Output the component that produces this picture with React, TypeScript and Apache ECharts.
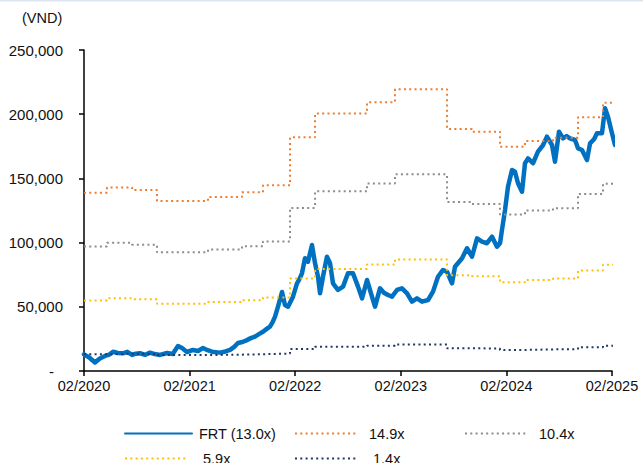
import React, { useEffect, useRef } from "react";
import * as echarts from "echarts";

// x positions are years elapsed since 02/2020
const xTickLabels = ["02/2020", "02/2021", "02/2022", "02/2023", "02/2024", "02/2025"];

const bandStepYears = [0, 0.218, 0.455, 0.691, 1.174, 1.496, 1.695, 1.951, 2.188, 2.68, 2.945, 3.438, 3.674, 3.939, 4.176, 4.441, 4.678, 4.915, 5.01];
const band149 = [138900, 143000, 141000, 132400, 135500, 139200, 144600, 182000, 200500, 209300, 219400, 188500, 186400, 174700, 179100, 181700, 197600, 209000, 209000];
const band104 = [96950, 99810, 98420, 92410, 94580, 97160, 100930, 127040, 139940, 146090, 153140, 131570, 130100, 121940, 125010, 126830, 137920, 145880, 145880];
const band59 = [55000, 56620, 55830, 52430, 53650, 55120, 57260, 72070, 79390, 82880, 86880, 74640, 73810, 69180, 70920, 71950, 78250, 82760, 82760];
const band14 = [13050, 13440, 13250, 12440, 12730, 13080, 13590, 17100, 18840, 19670, 20620, 17710, 17510, 16420, 16830, 17070, 18570, 19640, 19640];

const frtYears = [
  0, 0.05, 0.104, 0.15, 0.199, 0.24, 0.275, 0.32, 0.369, 0.41, 0.455, 0.49, 0.53, 0.58, 0.625, 0.67, 0.72, 0.786, 0.84,
  0.89, 0.928, 0.975, 1.032, 1.08, 1.127, 1.17, 1.212, 1.288, 1.34, 1.383, 1.42, 1.458, 1.5, 1.544, 1.58, 1.619, 1.66,
  1.695, 1.73, 1.761, 1.785, 1.809, 1.837, 1.875, 1.903, 1.932, 1.979, 2.017, 2.04, 2.064, 2.093, 2.121, 2.159, 2.188,
  2.216, 2.235, 2.263, 2.301, 2.33, 2.358, 2.405, 2.453, 2.5, 2.547, 2.595, 2.633, 2.68, 2.727, 2.756, 2.803, 2.84,
  2.879, 2.917, 2.964, 3.011, 3.059, 3.106, 3.153, 3.201, 3.258, 3.305, 3.352, 3.4, 3.438, 3.485, 3.513, 3.58, 3.627,
  3.674, 3.722, 3.769, 3.816, 3.864, 3.911, 3.94, 3.958, 3.987, 4.015, 4.053, 4.081, 4.11, 4.148, 4.176, 4.205, 4.252,
  4.299, 4.347, 4.384, 4.432, 4.46, 4.498, 4.536, 4.57, 4.602, 4.65, 4.678, 4.716, 4.763, 4.792, 4.83, 4.858, 4.905,
  4.934, 4.962, 5.0, 5.028, 5.047,
];
const frtPrice = [
  13000, 10500, 6600, 9800, 11700, 12800, 15000, 14000, 13800, 14900, 12500, 13500, 13800, 12600, 14300, 13200, 12500,
  14000, 13200, 19500, 17900, 14800, 16400, 15600, 17900, 16200, 15000, 14300, 15200, 16400, 18600, 21800, 22600, 24100,
  25600, 26700, 28900, 30600, 32800, 34500, 37800, 42300, 50100, 61500, 51400, 50100, 57900, 68300, 71500, 76100, 87800,
  85100, 98100, 83900, 73400, 60500, 73400, 89000, 83900, 68300, 63100, 65700, 76100, 76100, 65700, 56600, 70900, 57900,
  50100, 64400, 61000, 59200, 57900, 63100, 64400, 60500, 54000, 56600, 54000, 55300, 61800, 73400, 78700, 77300, 68300,
  81200, 87800, 95600, 89000, 103300, 100700, 99500, 104600, 96800, 99700, 109800, 125400, 143500, 156500, 155200,
  146200, 139600, 161800, 165600, 161800, 170800, 176000, 182500, 176000, 163000, 186400, 181200, 183000, 181200,
  179900, 173400, 172100, 164300, 177300, 180500, 185100, 185100, 204600, 198000, 185100, 176000, 182500,
];

const FONT = "'Liberation Sans', Arial, sans-serif";
const TXT = "#111";

export default function App() {
  const ref = useRef<HTMLDivElement>(null);

  useEffect(() => {
    document.body.style.margin = "0";
    const chart = echarts.init(ref.current!, null, { renderer: "svg" });

    const band = (name: string, values: number[], color: string) => ({
      name,
      type: "line",
      step: "end",
      symbol: "none",
      silent: true,
      clip: false,
      data: bandStepYears.map((t, i) => [t, values[i]]),
      lineStyle: { color, width: 2, type: [2, 3.3] },
      itemStyle: { color },
    });

    const legendItem = (name: string, left: number, top: number, w: number, pad: number) => ({
      data: [name],
      left,
      top,
      padding: 0,
      itemWidth: w,
      itemHeight: 14,
      selectedMode: false,
      itemStyle: { opacity: 0 },
      textStyle: { fontFamily: FONT, fontSize: 14.5, color: TXT, padding: [0, 0, 0, pad] },
    });

    chart.setOption({
      animation: false,
      backgroundColor: "#fff",
      textStyle: { fontFamily: FONT },
      grid: { left: 84, right: 31, top: 50, bottom: 92, containLabel: false },
      xAxis: {
        type: "value",
        min: 0,
        max: 5,
        interval: 1,
        axisLine: { lineStyle: { color: "#000", width: 1.5 } },
        axisTick: { show: true, length: 5, lineStyle: { color: "#000", width: 1.5 } },
        splitLine: { show: false },
        axisLabel: {
          margin: 7,
          fontSize: 14.5,
          color: TXT,
          fontFamily: FONT,
          formatter: (v: number) => xTickLabels[Math.round(v)] ?? "",
        },
      },
      yAxis: {
        type: "value",
        min: 0,
        max: 250000,
        interval: 50000,
        axisLine: { show: true, lineStyle: { color: "#000", width: 1.5 } },
        axisTick: { show: true, length: 5, lineStyle: { color: "#000", width: 1.5 } },
        splitLine: { show: false },
        axisLabel: {
          margin: 21,
          fontSize: 15,
          color: TXT,
          fontFamily: FONT,
          formatter: (v: number) => (v === 0 ? "{z|-}" : v.toLocaleString("en-US")),
          rich: { z: { fontSize: 15, color: TXT, fontFamily: FONT, padding: [0, 9, 0, 0] } },
        },
      },
      legend: [
        legendItem("FRT (13.0x)", 124, 426, 67, 2),
        legendItem("14.9x", 294, 426, 62, 7),
        legendItem("10.4x", 464, 426, 62, 7),
        legendItem("5.9x", 124, 451, 62, 11),
        legendItem("1.4x", 294, 451, 62, 11),
      ],
      graphic: [
        { type: "rect", left: 0, top: 0, shape: { width: 643, height: 1.5 }, style: { fill: "#dce6f2" } },
        {
          type: "text",
          left: 22,
          top: 10,
          style: { text: "(VND)", font: `14.5px ${FONT}`, fill: TXT },
        },
      ],
      series: [
        {
          name: "FRT (13.0x)",
          type: "line",
          symbol: "none",
          clip: false,
          data: frtYears.map((t, i) => [t, frtPrice[i]]),
          lineStyle: { color: "#0070C0", width: 4.5, join: "round", cap: "round" },
          itemStyle: { color: "#0070C0" },
        },
        band("14.9x", band149, "#ED7D31"),
        band("10.4x", band104, "#8C8C8C"),
        band("5.9x", band59, "#FFC000"),
        band("1.4x", band14, "#1F3864"),
      ],
    });

    return () => chart.dispose();
  }, []);

  return <div ref={ref} style={{ width: 643, height: 463 }} />;
}
